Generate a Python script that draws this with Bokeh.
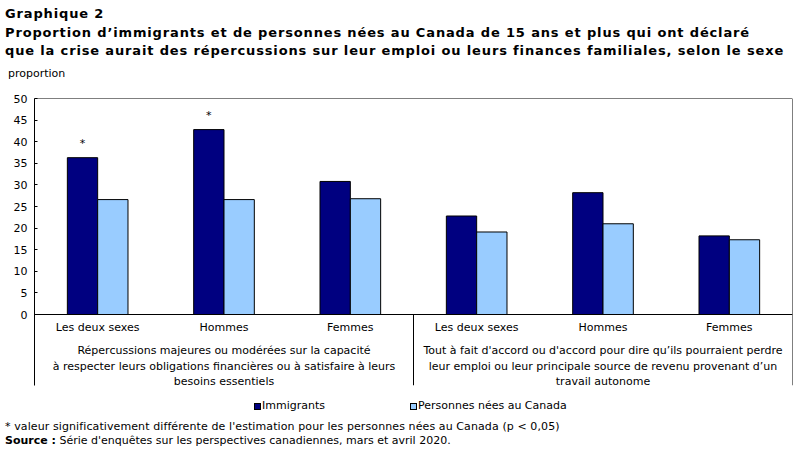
from bokeh.plotting import figure
from bokeh.models import Range1d, FixedTicker, Span, ColumnDataSource, Div
from bokeh.layouts import column
from bokeh.core.properties import value
from bokeh.embed import file_html
from bokeh.resources import INLINE
from bokeh.transform import dodge

# ---- data ----
categories = ["Les deux sexes", "Hommes", "Femmes", "Les deux sexes", "Hommes", "Femmes"]
group_labels = [
    "Répercussions majeures ou modérées sur la capacité\nà respecter leurs obligations financières ou à satisfaire à leurs\nbesoins essentiels",
    "Tout à fait d'accord ou d'accord pour dire qu’ils pourraient perdre\nleur emploi ou leur principale source de revenu provenant d’un\ntravail autonome",
]
group_sizes = [3, 3]
immigrants = [36.3, 42.8, 30.8, 22.8, 28.2, 18.2]
nes_au_canada = [26.6, 26.6, 26.8, 19.1, 21.0, 17.3]
significant = [True, True, False, False, False, False]
y_ticks = [0, 5, 10, 15, 20, 25, 30, 35, 40, 45, 50]
series_names = ["Immigrants", "Personnes nées au Canada"]
title_lines = [
    "Graphique 2",
    "Proportion d’immigrants et de personnes nées au Canada de 15 ans et plus qui ont déclaré",
    "que la crise aurait des répercussions sur leur emploi ou leurs finances familiales, selon le sexe",
]
y_label = "proportion"
note_line = "* valeur significativement différente de l'estimation pour les personnes nées au Canada (p &lt; 0,05)"
source_bold = "Source :"
source_text = "Série d'enquêtes sur les perspectives canadiennes, mars et avril 2020."

FONT = "DejaVu Sans"
NAVY = "#000080"
LIGHT = "#99CCFF"

W = 799
TOP_H = 86          # header block
FIG_TOP = 86
FT, FB = 98, 385    # frame top / bottom (page px)
FL, FR = 34, 792
FIG_BOTTOM = 392
BOT_H = 454 - FIG_BOTTOM
Y0 = 314            # pixel row of value 0
ppu = (Y0 - FT) / 50.0
y_start = -(FB - Y0) / ppu


def ydata(px):
    return -(px - Y0) / ppu


n = len(categories)
xs = [i + 0.5 for i in range(n)]

p = figure(width=W, height=FIG_BOTTOM - FIG_TOP, output_backend="svg", toolbar_location=None,
           x_range=Range1d(0, n), y_range=Range1d(y_start, 50),
           x_axis_location=None, min_border_left=FL, min_border_right=W - FR,
           min_border_top=FT - FIG_TOP, min_border_bottom=FIG_BOTTOM - FB, margin=0)
p.outline_line_color = None
p.grid.visible = False
p.background_fill_color = "white"
p.border_fill_color = "white"

src = ColumnDataSource(dict(x=xs, imm=immigrants, can=nes_au_canada, cat=categories,
                            star=["*" if s else "" for s in significant]))

r1 = p.vbar(x=dodge("x", -0.12, range=p.x_range), top="imm", bottom=0, width=0.24,
            source=src, fill_color=NAVY, line_color="black", line_width=1)
r2 = p.vbar(x=dodge("x", 0.12, range=p.x_range), top="can", bottom=0, width=0.24,
            source=src, fill_color=LIGHT, line_color="black", line_width=1)

p.text(x=dodge("x", -0.12, range=p.x_range), y="imm", text="star", source=src,
       y_offset=-14, text_align="center", text_baseline="middle",
       text_font=value(FONT), text_font_size="11px", text_color="black")

# category labels
p.text(x="x", y=ydata(327), text="cat", source=src, text_align="center",
       text_baseline="middle", text_font=value(FONT), text_font_size="11px", text_color="black")

# group labels + separators
gx, start = [], 0
for s in group_sizes:
    gx.append(start + s / 2)
    start += s
p.text(x=gx, y=[ydata(343.5)] * len(gx), text=group_labels, text_align="center",
       text_baseline="top", text_font=value(FONT), text_font_size="11px",
       text_line_height=1.2, text_color="black")
sep_x, start = [], 0
for s in group_sizes[:-1]:
    start += s
    sep_x.append(start)
p.segment(x0=sep_x, x1=sep_x, y0=[0] * len(sep_x), y1=[y_start] * len(sep_x),
          line_color="black", line_width=1)

p.add_layout(Span(location=0, dimension="width", line_color="black", line_width=1))
p.add_layout(Span(location=50, dimension="width", line_color="black", line_width=1))
p.add_layout(Span(location=n, dimension="height", line_color="black", line_width=1))

ax = p.yaxis[0]
ax.ticker = FixedTicker(ticks=y_ticks)
ax.minor_tick_line_color = None
ax.major_tick_in = 3
ax.major_tick_out = 0
ax.major_tick_line_color = "black"
ax.axis_line_color = "black"
ax.major_label_standoff = 7
ax.major_label_text_font = FONT
ax.major_label_text_font_size = "11px"
ax.major_label_text_color = "black"

ff = "font-family:'DejaVu Sans',sans-serif;color:#000;"
top_html = (
    f"<div style=\"position:relative;width:{W}px;height:{TOP_H}px;{ff}\">"
    f"<div style=\"position:absolute;left:5px;top:5px;font-size:13px;font-weight:bold;"
    f"letter-spacing:0.85px;line-height:18.5px;white-space:nowrap;\">"
    + "<br>".join(title_lines) + "</div>"
    f"<div style=\"position:absolute;left:8px;top:67px;font-size:11px;line-height:14px;"
    f"white-space:nowrap;\">{y_label}</div></div>"
)


def legend_item(color, label, x):
    return (f"<div style=\"position:absolute;left:{x}px;top:11px;width:7px;height:7px;"
            f"box-sizing:border-box;border:1px solid #000;background:{color};\"></div>"
            f"<div style=\"position:absolute;left:{x + 8}px;top:7px;font-size:11px;"
            f"line-height:14px;white-space:nowrap;\">{label}</div>")


bot_html = (
    f"<div style=\"position:relative;width:{W}px;height:{BOT_H}px;{ff}\">"
    + legend_item(NAVY, series_names[0], 254)
    + legend_item(LIGHT, series_names[1], 410)
    + f"<div style=\"position:absolute;left:5px;top:28px;font-size:11px;line-height:14px;"
      f"letter-spacing:0.1px;white-space:nowrap;\">{note_line}</div>"
    + f"<div style=\"position:absolute;left:5px;top:42px;font-size:11px;line-height:14px;"
      f"white-space:nowrap;\"><b>{source_bold}</b> {source_text}</div>"
    + "</div>"
)

top = Div(text=top_html, width=W, height=TOP_H, margin=0)
bottom = Div(text=bot_html, width=W, height=BOT_H, margin=0)

layout = column(top, p, bottom, spacing=0, margin=0)
open("out.html", "w").write(file_html(layout, INLINE))
